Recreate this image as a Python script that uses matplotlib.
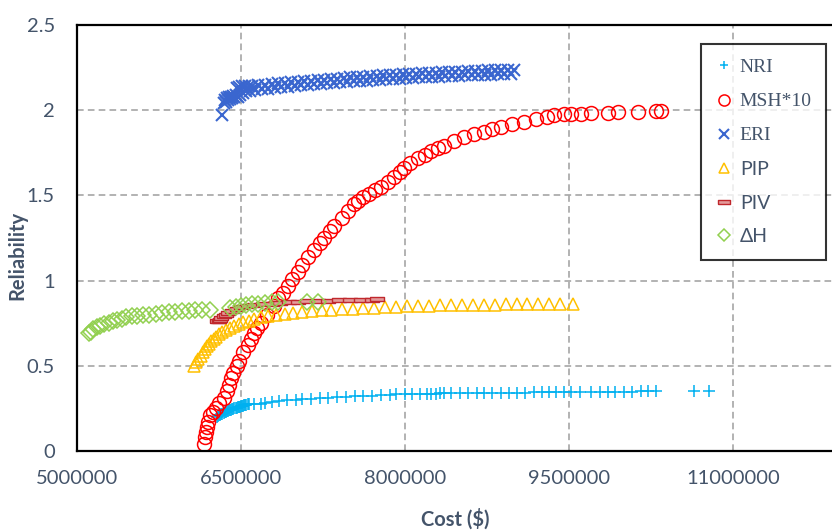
import numpy as np
import matplotlib as mpl
import matplotlib.pyplot as plt
from matplotlib.ticker import FixedLocator, FuncFormatter

# cost values in million $, reliability
nri_cost = [6.28, 6.29, 6.30, 6.31, 6.32, 6.33, 6.34, 6.35, 6.36, 6.37, 6.38, 6.39, 6.40,
            6.41, 6.42, 6.43, 6.44, 6.45, 6.46, 6.47, 6.48, 6.49, 6.50, 6.51, 6.52, 6.53,
            6.54, 6.55, 6.56, 6.57, 6.62, 6.68, 6.72, 6.78, 6.85, 6.92, 7.00, 7.06, 7.14,
            7.22, 7.30, 7.38, 7.46, 7.54, 7.62, 7.70, 7.78, 7.86, 7.92, 8.00, 8.06, 8.14,
            8.20, 8.24, 8.28, 8.32, 8.36, 8.42, 8.50, 8.58, 8.66, 8.72, 8.80, 8.88, 8.95,
            9.02, 9.10, 9.18, 9.25, 9.32, 9.38, 9.45, 9.52, 9.60, 9.70, 9.78, 9.86, 9.92,
            10.00, 10.08, 10.16, 10.22, 10.30, 10.64, 10.78]
nri_rel = [0.200, 0.205, 0.210, 0.213, 0.217, 0.220, 0.223, 0.226, 0.229, 0.232, 0.235,
           0.238, 0.240, 0.243, 0.245, 0.247, 0.250, 0.252, 0.254, 0.256, 0.258, 0.260,
           0.262, 0.264, 0.266, 0.268, 0.270, 0.272, 0.273, 0.275, 0.276, 0.278, 0.282,
           0.287, 0.292, 0.297, 0.300, 0.303, 0.306, 0.309, 0.312, 0.315, 0.318, 0.320,
           0.323, 0.325, 0.327, 0.330, 0.332, 0.333, 0.334, 0.335, 0.336, 0.337, 0.337,
           0.338, 0.338, 0.339, 0.340, 0.340, 0.341, 0.341, 0.342, 0.342, 0.342, 0.343,
           0.343, 0.344, 0.344, 0.345, 0.345, 0.345, 0.346, 0.346, 0.347, 0.347, 0.348,
           0.348, 0.349, 0.349, 0.350, 0.350, 0.351, 0.352, 0.353]

msh_cost = [6.16, 6.17, 6.18, 6.19, 6.20, 6.22, 6.24, 6.27, 6.30, 6.34, 6.37, 6.39, 6.41,
            6.43, 6.46, 6.48, 6.52, 6.56, 6.59, 6.62, 6.65, 6.68, 6.74, 6.80, 6.84, 6.88,
            6.93, 6.97, 7.02, 7.06, 7.11, 7.17, 7.22, 7.26, 7.31, 7.35, 7.42, 7.48, 7.53,
            7.57, 7.62, 7.67, 7.73, 7.78, 7.84, 7.90, 7.95, 7.99, 8.05, 8.12, 8.18, 8.24,
            8.30, 8.36, 8.45, 8.54, 8.63, 8.72, 8.80, 8.88, 8.98, 9.09, 9.20, 9.30, 9.36,
            9.45, 9.52, 9.61, 9.70, 9.86, 9.95, 10.13, 10.30, 10.34]
msh_rel = [0.04, 0.08, 0.11, 0.14, 0.17, 0.21, 0.23, 0.25, 0.28, 0.31, 0.35, 0.39, 0.43,
           0.46, 0.50, 0.53, 0.58, 0.62, 0.66, 0.69, 0.72, 0.75, 0.80, 0.85, 0.90, 0.93,
           0.97, 1.01, 1.05, 1.09, 1.14, 1.18, 1.22, 1.25, 1.29, 1.32, 1.37, 1.41, 1.45,
           1.47, 1.49, 1.51, 1.53, 1.55, 1.58, 1.61, 1.64, 1.66, 1.69, 1.72, 1.74, 1.76,
           1.78, 1.79, 1.82, 1.84, 1.86, 1.87, 1.89, 1.90, 1.92, 1.93, 1.95, 1.96, 1.97,
           1.975, 1.98, 1.98, 1.985, 1.985, 1.99, 1.99, 1.995, 1.995]

eri_cost = [6.33, 6.34, 6.35, 6.36, 6.37, 6.38, 6.39, 6.40, 6.41, 6.42, 6.43, 6.44, 6.45,
            6.46, 6.47, 6.48, 6.49, 6.51, 6.52, 6.54, 6.55, 6.57, 6.58,
            6.60, 6.63, 6.66, 6.69, 6.72, 6.75, 6.78, 6.81, 6.84, 6.87, 6.90, 6.93, 6.96,
            6.99, 7.02, 7.05, 7.08, 7.11, 7.14, 7.17, 7.20, 7.23, 7.26, 7.29, 7.32, 7.35,
            7.38, 7.41, 7.44, 7.47, 7.50, 7.53, 7.56, 7.59, 7.62, 7.65, 7.68, 7.71, 7.74,
            7.77, 7.80, 7.83, 7.86, 7.89, 7.92, 7.95, 7.98, 8.01, 8.04, 8.07, 8.10, 8.13,
            8.16, 8.19, 8.22, 8.25, 8.28, 8.31, 8.34, 8.37, 8.40, 8.43, 8.46, 8.49, 8.52,
            8.55, 8.58, 8.61, 8.64, 8.67, 8.70, 8.73, 8.76, 8.79, 8.82, 8.85, 8.88, 8.91,
            8.94, 8.97, 9.00]
eri_rel = [1.97, 2.04, 2.06, 2.05, 2.07, 2.06, 2.075, 2.065, 2.08, 2.07, 2.085, 2.075,
           2.09, 2.13, 2.08, 2.135, 2.09, 2.14, 2.10, 2.14, 2.11, 2.14, 2.115,
           2.142, 2.120, 2.146, 2.124, 2.149, 2.127, 2.153, 2.131, 2.157, 2.135, 2.161,
           2.138, 2.164, 2.142, 2.168, 2.145, 2.171, 2.148, 2.174, 2.151, 2.177, 2.154,
           2.180, 2.157, 2.183, 2.160, 2.186, 2.163, 2.189, 2.166, 2.192, 2.169, 2.194,
           2.172, 2.197, 2.174, 2.199, 2.176, 2.202, 2.179, 2.204, 2.181, 2.206, 2.184,
           2.209, 2.186, 2.211, 2.188, 2.213, 2.190, 2.215, 2.192, 2.217, 2.194, 2.219,
           2.195, 2.220, 2.197, 2.222, 2.199, 2.224, 2.201, 2.226, 2.203, 2.227, 2.204,
           2.229, 2.205, 2.230, 2.207, 2.231, 2.208, 2.233, 2.209, 2.234, 2.211, 2.235,
           2.212, 2.237, 2.213, 2.238]

pip_cost = [6.07, 6.09, 6.11, 6.13, 6.15, 6.17, 6.19, 6.21, 6.23, 6.25, 6.27, 6.30, 6.33,
            6.36, 6.40, 6.44, 6.48, 6.52, 6.57, 6.62, 6.68, 6.75, 6.82, 6.90, 6.98, 7.06,
            7.15, 7.24, 7.32, 7.42, 7.52, 7.62, 7.72, 7.82, 7.92, 8.02, 8.12, 8.22, 8.32,
            8.42, 8.52, 8.62, 8.72, 8.82, 8.92, 9.02, 9.12, 9.22, 9.32, 9.42, 9.54]
pip_rel = [0.50, 0.52, 0.54, 0.56, 0.58, 0.60, 0.615, 0.63, 0.645, 0.66, 0.67, 0.685, 0.70,
           0.71, 0.72, 0.735, 0.745, 0.755, 0.765, 0.775, 0.785, 0.79, 0.80, 0.805, 0.81,
           0.815, 0.82, 0.825, 0.83, 0.833, 0.836, 0.84, 0.842, 0.845, 0.847, 0.85, 0.851,
           0.852, 0.854, 0.855, 0.856, 0.857, 0.858, 0.859, 0.86, 0.86, 0.861, 0.862,
           0.862, 0.863, 0.863]

piv_cost = [6.28, 6.30, 6.31, 6.32, 6.34, 6.36, 6.38, 6.42, 6.46, 6.50, 6.56, 6.62, 6.70,
            6.78, 6.86, 6.94, 7.02, 7.10, 7.20, 7.30, 7.40, 7.50, 7.60, 7.70, 7.74]
piv_rel = [0.76, 0.765, 0.77, 0.78, 0.79, 0.80, 0.81, 0.82, 0.835, 0.845, 0.85, 0.855, 0.86,
           0.865, 0.868, 0.872, 0.875, 0.878, 0.88, 0.882, 0.884, 0.886, 0.888, 0.889, 0.89]

dh_cost = [5.11, 5.13, 5.15, 5.18, 5.21, 5.25, 5.29, 5.33, 5.37, 5.41, 5.45, 5.50, 5.55,
           5.60, 5.66, 5.72, 5.78, 5.84, 5.90, 5.96, 6.02, 6.08, 6.14, 6.22, 6.40, 6.45,
           6.50, 6.55, 6.60, 6.66, 6.72, 6.78, 6.84, 7.10, 7.20]
dh_rel = [0.69, 0.70, 0.715, 0.725, 0.735, 0.745, 0.75, 0.76, 0.77, 0.775, 0.785, 0.79,
          0.795, 0.80, 0.80, 0.805, 0.81, 0.815, 0.815, 0.82, 0.82, 0.825, 0.825, 0.83,
          0.84, 0.845, 0.85, 0.855, 0.86, 0.865, 0.87, 0.875, 0.875, 0.875, 0.875]

x_ticks = [5000000, 6500000, 8000000, 9500000, 11000000]
y_ticks = [0, 0.5, 1, 1.5, 2, 2.5]

TXT = "#44546A"
plt.rcParams["font.family"] = ["Lato", "DejaVu Sans"]

fig = plt.figure(figsize=(8.32, 5.30), dpi=100)
ax = fig.add_axes([77 / 832, 79 / 530, 820 / 832, 426 / 530])

rect = [(-1, -0.33), (1, -0.33), (1, 0.33), (-1, 0.33), (-1, -0.33)]
M = 1e6
ax.plot(np.array(nri_cost) * M, nri_rel, ls="none", marker="+", ms=8, mew=1.1,
        color="#00B0F0", label="NRI")
ax.plot(np.array(msh_cost) * M, msh_rel, ls="none", marker="o", ms=10, mew=1.1,
        mfc="none", mec="#FF0000", label="MSH*10")
ax.plot(np.array(eri_cost) * M, eri_rel, ls="none", marker="x", ms=8.5, mew=1.5,
        color="#3A66CF", label="ERI")
ax.plot(np.array(pip_cost) * M, pip_rel, ls="none", marker="^", ms=9, mew=1.1,
        mfc="none", mec="#FFC000", label="PIP")
ax.plot(np.array(piv_cost) * M, piv_rel, ls="none", marker=rect, ms=10, mew=1.0,
        mfc="#E49B9B", mec="#C0282D", label="PIV")
ax.plot(np.array(dh_cost) * M, dh_rel, ls="none", marker="D", ms=8, mew=1.1,
        mfc="none", mec="#92D050", label="ΔH")

ax.set_xlim(5000000, 12500000)
ax.set_ylim(0, 2.5)
ax.xaxis.set_major_locator(FixedLocator(x_ticks))
ax.yaxis.set_major_locator(FixedLocator(y_ticks))
ax.xaxis.set_major_formatter(FuncFormatter(lambda v, p: "%d" % v))
ax.yaxis.set_major_formatter(FuncFormatter(lambda v, p: "%g" % v))

ax.grid(True, color="#A6A6A6", ls=(0, (4, 2.5)), lw=1.2)
ax.set_axisbelow(True)
ax.tick_params(length=0, labelsize=14.5, labelcolor=TXT)
ax.tick_params(axis="x", pad=14)
ax.tick_params(axis="y", pad=16)
for s in ["left", "bottom", "top"]:
    ax.spines[s].set_color("black")
    ax.spines[s].set_linewidth(1.6)
ax.spines["right"].set_visible(False)

ax.set_xlabel("Cost ($)", fontsize=14.5, fontweight="bold", color=TXT)
ax.set_ylabel("Reliability", fontsize=14.5, fontweight="bold", color=TXT)
ax.xaxis.set_label_coords((455 - 77) / 820, -0.135)
ax.yaxis.set_label_coords(-0.061, 0.46)

leg = ax.legend(loc="upper left", bbox_to_anchor=((701 - 77) / 820, (451 - 44) / 426),
                borderaxespad=0, fontsize=14, frameon=True, fancybox=False,
                edgecolor="black", handlelength=0.9, handletextpad=0.35,
                labelspacing=0.85, borderpad=0.75, markerscale=0.8)
leg.get_frame().set_linewidth(1.5)
for i, t in enumerate(leg.get_texts()):
    t.set_color(TXT)
    if i < 3:
        t.set_family("Liberation Serif")

fig.savefig("out.png", dpi=100)
